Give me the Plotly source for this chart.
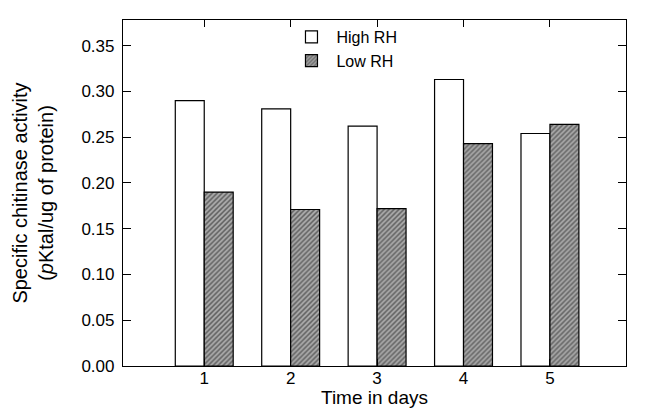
import plotly.graph_objects as go

days = [1, 2, 3, 4, 5]
day_labels = ["1", "2", "3", "4", "5"]
high_rh = [0.290, 0.281, 0.262, 0.313, 0.254]
low_rh = [0.190, 0.171, 0.172, 0.243, 0.264]
y_ticks = [0.00, 0.05, 0.10, 0.15, 0.20, 0.25, 0.30, 0.35]

fig = go.Figure()
fig.add_trace(go.Bar(
    x=days, y=high_rh, name="High RH",
    marker=dict(color="white", line=dict(color="black", width=1.2)),
))
fig.add_trace(go.Bar(
    x=days, y=low_rh, name="Low RH",
    marker=dict(color="#9a9a9a", line=dict(color="black", width=1.2),
                pattern=dict(shape="/", fgcolor="#1a1a1a", bgcolor="#aaaaaa", size=3.5, solidity=0.45)),
))

font = "Liberation Sans, Arial, sans-serif"
fig.update_layout(
    width=646, height=418,
    margin=dict(l=115, r=28, t=12, b=60),
    paper_bgcolor="white", plot_bgcolor="white",
    barmode="group", bargap=0.33, bargroupgap=0,
    font=dict(family=font, size=17, color="black"),
    showlegend=True,
    legend=dict(x=0.325, y=1.0, xanchor="left", yanchor="top",
                bgcolor="rgba(0,0,0,0)", font=dict(size=16), tracegroupgap=0,
                itemwidth=40),
    xaxis=dict(
        range=[0.06, 5.88], tickmode="array", tickvals=days, ticktext=day_labels,
        ticks="inside", ticklen=7, tickcolor="black", mirror="ticks",
        showline=True, linecolor="black", linewidth=1.2, showgrid=False, zeroline=False,
        title=dict(text="Time in days", font=dict(size=19), standoff=4),
        tickfont=dict(size=17), ticklabelstandoff=-4,
    ),
    yaxis=dict(
        range=[0, 0.378], tickmode="array", tickvals=y_ticks,
        ticktext=[f"{v:.2f}" for v in y_ticks],
        ticks="inside", ticklen=8, tickcolor="black", mirror="ticks",
        showline=True, linecolor="black", linewidth=1.2, showgrid=False, zeroline=False,
        title=dict(text="Specific chitinase activity<br>(<i>p</i>Ktal/ug of protein)",
                   font=dict(size=20), standoff=22),
        tickfont=dict(size=17), ticklabelstandoff=4,
    ),
)

fig.write_html("out.html")
